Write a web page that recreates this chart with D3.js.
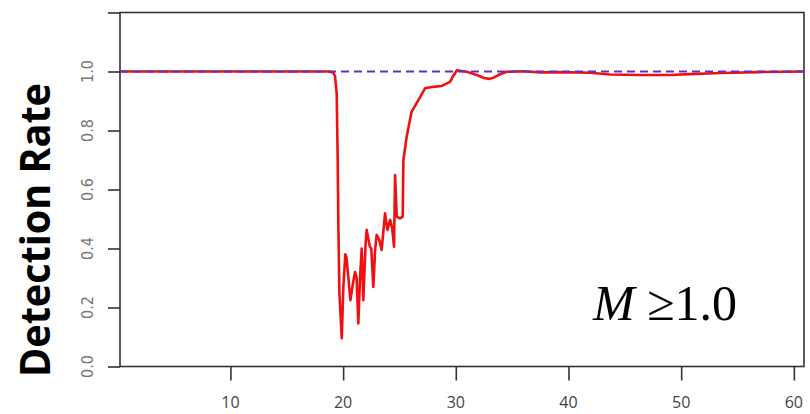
<!DOCTYPE html>
<html>
<head>
<meta charset="utf-8">
<script src="https://cdn.jsdelivr.net/npm/d3@7/dist/d3.min.js"></script>
<style>
  html, body { margin: 0; padding: 0; background: #fff; }
  svg { display: block; }
</style>
</head>
<body>
<div id="chart"></div>
<script>
// ---- data ----
const dose = [0.2, 5, 10, 15, 18.0, 18.7, 19.1, 19.28, 19.43, 19.52, 19.58, 19.67, 19.88,
  20.02, 20.2, 20.3, 20.47, 20.65, 20.91, 21.06, 21.2, 21.35, 21.5, 21.65, 21.79, 22.0, 22.09,
  22.3, 22.38, 22.5, 22.68, 22.85, 22.98, 23.2, 23.42, 23.6, 23.72, 23.93, 24.17, 24.35, 24.52,
  24.61, 24.76, 25.05, 25.29, 25.35, 25.64, 26.08, 26.68, 27.27, 28.0, 28.75, 29.49, 29.72,
  29.93, 30.09, 30.98, 31.87, 32.5, 32.98, 33.4, 33.78, 34.5, 36.0, 37.5, 39.25, 41.9, 43.7,
  46.4, 49.0, 50.8, 53.5, 57.0, 60.9];
const detectionRate = [1.0, 1.0, 1.0, 1.0, 1.0, 1.0, 0.997, 0.985, 0.926, 0.70, 0.474, 0.249, 0.096,
  0.27, 0.38, 0.37, 0.30, 0.225, 0.29, 0.32, 0.30, 0.146, 0.30, 0.40, 0.225, 0.42, 0.463,
  0.42, 0.406, 0.40, 0.27, 0.40, 0.446, 0.43, 0.395, 0.47, 0.519, 0.463, 0.497, 0.47, 0.406,
  0.649, 0.508, 0.502, 0.508, 0.70, 0.779, 0.864, 0.903, 0.943, 0.948, 0.951, 0.965, 0.982,
  0.994, 1.004, 0.999, 0.988, 0.978, 0.975, 0.98, 0.988, 0.999, 1.001, 0.997, 0.998, 0.996, 0.990,
  0.988, 0.988, 0.991, 0.995, 0.998, 1.0];
const xTicks = [10, 20, 30, 40, 50, 60];
const yTicks = [0, 0.2, 0.4, 0.6, 0.8, 1.0, 1.2];
const yTickLabels = ["0.0", "0.2", "0.4", "0.6", "0.8", "1.0", ""];
const referenceLevel = 1.0;

// ---- layout ----
const width = 810, height = 414;
const plot = { left: 120, right: 804, top: 12.5, bottom: 366.5 };

const svg = d3.select("#chart").append("svg")
  .attr("width", width)
  .attr("height", height);

const x = d3.scaleLinear().domain([0.2, 60.9]).range([plot.left, plot.right]);
const y = d3.scaleLinear().domain([0, 1.2]).range([plot.bottom, plot.top]);

// frame
svg.append("rect")
  .attr("x", plot.left).attr("y", plot.top)
  .attr("width", plot.right - plot.left).attr("height", plot.bottom - plot.top)
  .attr("fill", "none").attr("stroke", "#333").attr("stroke-width", 1.6);

// y axis
const yAxis = svg.append("g")
  .attr("transform", `translate(${plot.left},0)`)
  .call(d3.axisLeft(y).tickValues(yTicks).tickSize(12).tickFormat(""));
yAxis.select(".domain").remove();
yAxis.selectAll(".tick line").attr("stroke", "#333").attr("stroke-width", 1.6);

svg.append("g").selectAll("text")
  .data(yTicks)
  .join("text")
  .attr("transform", d => `translate(93,${y(d)}) rotate(-90)`)
  .attr("text-anchor", "middle")
  .attr("font-family", "Liberation Sans Narrow, 'DejaVu Sans Condensed', sans-serif")
  .attr("font-size", 16)
  .attr("fill", "#777")
  .text((d, i) => yTickLabels[i]);

// x axis
const xAxis = svg.append("g")
  .attr("transform", `translate(0,${plot.bottom})`)
  .call(d3.axisBottom(x).tickValues(xTicks).tickSize(14).tickFormat(""));
xAxis.select(".domain").remove();
xAxis.selectAll(".tick line").attr("stroke", "#333").attr("stroke-width", 1.6);

svg.append("g").selectAll("text")
  .data(xTicks)
  .join("text")
  .attr("x", d => x(d))
  .attr("y", 408)
  .attr("text-anchor", "middle")
  .attr("font-family", "'Open Sans', 'Liberation Sans', sans-serif")
  .attr("font-size", 16)
  .attr("fill", "#444")
  .text(d => d);

// red curve
const line = d3.line()
  .x((d, i) => x(dose[i]))
  .y(d => y(d));

svg.append("path")
  .datum(detectionRate)
  .attr("d", line)
  .attr("fill", "none")
  .attr("stroke", "#f01010")
  .attr("stroke-width", 2.6)
  .attr("stroke-linejoin", "round");

// dashed reference
svg.append("line")
  .attr("x1", plot.left).attr("x2", plot.right)
  .attr("y1", y(referenceLevel)).attr("y2", y(referenceLevel))
  .attr("stroke", "#6030c8")
  .attr("stroke-width", 2)
  .attr("stroke-dasharray", "8,5");

// axis title
svg.append("text")
  .attr("transform", "translate(50,230) rotate(-90)")
  .attr("text-anchor", "middle")
  .attr("font-family", "'Open Sans', 'DejaVu Sans', sans-serif")
  .attr("font-weight", "bold")
  .attr("font-size", 42)
  .attr("textLength", 294)
  .attr("lengthAdjust", "spacingAndGlyphs")
  .attr("fill", "#000")
  .text("Detection Rate");

// annotation
const note = svg.append("text")
  .attr("x", 593).attr("y", 320)
  .attr("font-family", "'Liberation Serif', 'DejaVu Serif', serif")
  .attr("font-size", 50)
  .attr("fill", "#000");
note.append("tspan").attr("font-style", "italic").text("M");
note.append("tspan").text(" \u22651.0");
</script>
</body>
</html>
